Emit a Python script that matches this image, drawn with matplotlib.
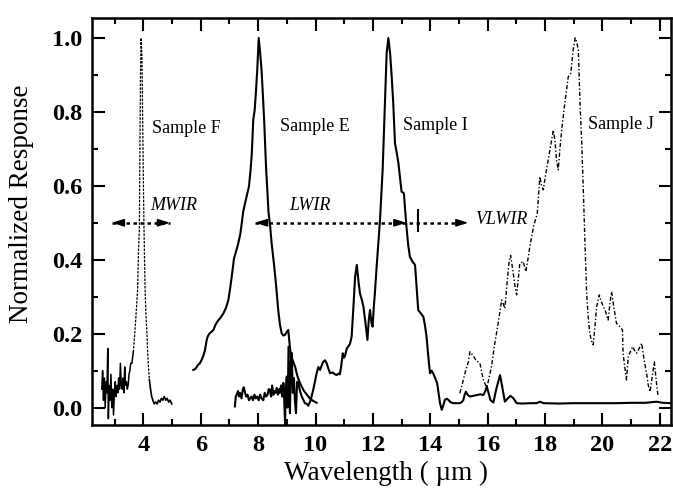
import numpy as np
import matplotlib
matplotlib.use("Agg")
import matplotlib.pyplot as plt
from matplotlib.ticker import MultipleLocator, FormatStrFormatter

plt.rcParams['font.family'] = ['Liberation Serif', 'DejaVu Serif']

# ---- spectral response data (wavelength in um, normalized response) ----
f_x = [2.55, 2.58, 2.61, 2.64, 2.67, 2.70, 2.73, 2.76, 2.78, 2.81, 2.84, 2.87, 2.90,
       2.93, 2.96, 2.99, 3.02, 3.05, 3.08, 3.11, 3.14, 3.17, 3.20, 3.23, 3.26, 3.29,
       3.32, 3.35, 3.38, 3.41, 3.44, 3.47, 3.50, 3.53, 3.56, 3.60, 3.65, 3.71, 3.76,
       3.80, 3.83, 3.86, 3.88, 3.90, 3.92, 3.95, 3.98, 4.01, 4.03, 4.06, 4.09, 4.12,
       4.15, 4.17, 4.21, 4.25, 4.29, 4.33, 4.38, 4.43, 4.48, 4.53, 4.58, 4.63, 4.68,
       4.73, 4.78, 4.83, 4.88, 4.93, 4.99]
f_y = [0.05, 0.10, 0.02, 0.08, 0.00, 0.07, 0.04, 0.16, -0.03, 0.06, 0.02, 0.09, 0.00,
       0.05, -0.02, 0.04, 0.07, 0.03, 0.06, 0.04, 0.08, 0.05, 0.12, 0.06, 0.05, 0.08,
       0.04, 0.11, 0.06, 0.07, 0.05, 0.06, 0.09, 0.10, 0.12, 0.12, 0.15, 0.21, 0.27,
       0.32, 0.42, 0.48, 0.70, 0.90, 1.00, 0.95, 0.75, 0.55, 0.45, 0.32, 0.25, 0.21,
       0.15, 0.12, 0.075, 0.05, 0.03, 0.02, 0.01, 0.015, 0.01, 0.02, 0.015, 0.025, 0.02,
       0.03, 0.02, 0.025, 0.015, 0.02, 0.01]

e_x = [5.74, 5.82, 5.90, 5.97, 6.03, 6.09, 6.15, 6.20, 6.24, 6.30, 6.37, 6.44, 6.52,
       6.60, 6.68, 6.79, 6.88, 6.96, 7.02, 7.08, 7.16, 7.24, 7.31, 7.38, 7.43, 7.48,
       7.58, 7.68, 7.74, 7.78, 7.83, 7.88, 7.92, 7.97, 8.02, 8.07, 8.12, 8.17, 8.21,
       8.28, 8.32, 8.36, 8.42, 8.47, 8.55, 8.62, 8.66, 8.70, 8.76, 8.82, 8.88, 8.94,
       9.00, 9.05, 9.10, 9.15, 9.20, 9.29, 9.37, 9.45, 9.53, 9.60, 9.70, 9.80, 9.92, 10.04]
e_y = [0.102, 0.105, 0.115, 0.12, 0.129, 0.14, 0.156, 0.18, 0.192, 0.2, 0.205, 0.21, 0.225,
       0.235, 0.242, 0.255, 0.27, 0.29, 0.32, 0.354, 0.404, 0.425, 0.445, 0.47, 0.499, 0.53,
       0.565, 0.598, 0.645, 0.688, 0.778, 0.805, 0.85, 0.913, 1.0, 0.96, 0.913, 0.84, 0.778,
       0.643, 0.59, 0.53, 0.49, 0.445, 0.39, 0.336, 0.3, 0.264, 0.225, 0.201, 0.195, 0.197,
       0.205, 0.21, 0.17, 0.135, 0.13, 0.11, 0.085, 0.068, 0.055, 0.045, 0.035, 0.025, 0.018, 0.013]

i_x = [7.19, 7.22, 7.25, 7.30, 7.34, 7.37, 7.42, 7.47, 7.50, 7.54, 7.58, 7.63, 7.68, 7.72,
       7.77, 7.82, 7.87, 7.92, 7.97, 8.02, 8.07, 8.12, 8.18, 8.23, 8.28, 8.33, 8.37, 8.41,
       8.45, 8.49, 8.53, 8.57, 8.61, 8.65, 8.69, 8.73, 8.76, 8.80, 8.84, 8.88, 8.91, 8.94,
       8.96, 9.00, 9.03, 9.06, 9.09, 9.11, 9.14, 9.17, 9.21, 9.25, 9.28, 9.32, 9.36, 9.40,
       9.46, 9.52, 9.58, 9.63, 9.70, 9.75, 9.83, 9.92, 9.98, 10.04, 10.10, 10.16, 10.22,
       10.27, 10.33, 10.39, 10.45, 10.51, 10.60, 10.68, 10.74, 10.80, 10.85, 10.90, 10.95,
       10.99, 11.03, 11.09, 11.14, 11.20, 11.26, 11.32, 11.38, 11.44, 11.50, 11.55, 11.62,
       11.67, 11.74, 11.81, 11.86, 11.90, 11.95, 11.99, 12.03, 12.07, 12.13, 12.19, 12.25,
       12.34, 12.42, 12.48, 12.54, 12.60, 12.66, 12.71, 12.77, 12.83, 12.89, 12.95, 13.00,
       13.08, 13.12, 13.17, 13.23, 13.29, 13.38, 13.47, 13.52, 13.58, 13.67, 13.76, 13.82,
       13.87, 13.93, 13.99, 14.05, 14.10, 14.17, 14.24, 14.29, 14.34, 14.40, 14.45, 14.51,
       14.57, 14.63, 14.70, 14.80, 14.90, 15.03, 15.10, 15.15, 15.20, 15.24, 15.30, 15.38,
       15.50, 15.62, 15.75, 15.85, 15.92, 15.97, 16.03, 16.10, 16.20, 16.30, 16.43, 16.50,
       16.60, 16.70, 16.80, 16.90, 17.01, 17.20, 17.50, 17.70, 17.82, 17.95, 18.50, 19.00,
       19.50, 20.00, 20.50, 21.00, 21.50, 21.89, 22.10, 22.39]
i_y = [0.003, 0.03, 0.034, 0.045, 0.03, 0.04, 0.025, 0.05, 0.055, 0.043, 0.03, 0.035, 0.02,
       0.025, 0.03, 0.02, 0.035, 0.025, 0.03, 0.02, 0.035, 0.025, 0.02, 0.04, 0.03, 0.035,
       0.05, 0.048, 0.03, 0.06, 0.034, 0.045, 0.04, 0.053, 0.035, 0.05, 0.04, 0.06, 0.03,
       0.067, 0.02, -0.045, 0.05, 0.084, 0.0, 0.165, 0.05, -0.015, 0.12, 0.148, 0.04, 0.08,
       0.02, -0.015, 0.07, 0.066, 0.045, 0.03, 0.02, 0.012, 0.01, 0.005, 0.02, 0.048, 0.07,
       0.093, 0.11, 0.102, 0.115, 0.124, 0.128, 0.12, 0.105, 0.093, 0.095, 0.09, 0.088,
       0.092, 0.09, 0.115, 0.147, 0.135, 0.14, 0.16, 0.165, 0.172, 0.192, 0.27, 0.354,
       0.386, 0.34, 0.309, 0.29, 0.273, 0.23, 0.183, 0.24, 0.264, 0.23, 0.219, 0.27, 0.31,
       0.38, 0.445, 0.51, 0.643, 0.823, 0.959, 1.0, 0.959, 0.89, 0.823, 0.715, 0.69, 0.661,
       0.62, 0.584, 0.58, 0.54, 0.49, 0.44, 0.408, 0.395, 0.386, 0.33, 0.264, 0.255, 0.246,
       0.22, 0.192, 0.14, 0.093, 0.1, 0.093, 0.08, 0.066, 0.04, 0.012, -0.006, 0.005, 0.021,
       0.024, 0.021, 0.015, 0.012, 0.012, 0.012, 0.015, 0.02, 0.035, 0.043, 0.035, 0.03,
       0.032, 0.034, 0.036, 0.034, 0.045, 0.057, 0.04, 0.02, 0.014, 0.05, 0.088, 0.06,
       0.016, 0.025, 0.032, 0.025, 0.012, 0.011, 0.012, 0.012, 0.016, 0.012, 0.011, 0.012,
       0.012, 0.012, 0.012, 0.013, 0.013, 0.016, 0.013, 0.012]

j_x = [15.03, 15.12, 15.21, 15.27, 15.33, 15.38, 15.50, 15.60, 15.73, 15.85, 15.90, 15.97,
       16.05, 16.14, 16.25, 16.35, 16.43, 16.49, 16.55, 16.60, 16.68, 16.74, 16.80, 16.88,
       16.95, 17.01, 17.07, 17.12, 17.24, 17.33, 17.40, 17.47, 17.60, 17.73, 17.82, 17.88,
       17.94, 18.02, 18.11, 18.20, 18.29, 18.35, 18.40, 18.46, 18.52, 18.58, 18.70, 18.81,
       18.90, 18.98, 19.05, 19.10, 19.16, 19.22, 19.28, 19.33, 19.39, 19.45, 19.50, 19.56,
       19.62, 19.68, 19.74, 19.80, 19.89, 19.95, 20.02, 20.09, 20.20, 20.26, 20.32, 20.40,
       20.49, 20.60, 20.70, 20.72, 20.78, 20.84, 20.90, 21.05, 21.12, 21.19, 21.28, 21.37,
       21.45, 21.54, 21.60, 21.66, 21.73, 21.81, 21.88, 21.94]
j_y = [0.039, 0.065, 0.093, 0.11, 0.124, 0.151, 0.14, 0.127, 0.12, 0.075, 0.066, 0.055,
       0.08, 0.115, 0.174, 0.22, 0.26, 0.291, 0.28, 0.268, 0.34, 0.39, 0.412, 0.37,
       0.33, 0.305, 0.35, 0.39, 0.395, 0.368, 0.4, 0.435, 0.49, 0.526, 0.625, 0.6,
       0.589, 0.63, 0.67, 0.71, 0.751, 0.72, 0.67, 0.643, 0.7, 0.751, 0.83, 0.895,
       0.905, 0.968, 1.0, 0.99, 0.968, 0.823, 0.715, 0.598, 0.45, 0.31, 0.25, 0.201,
       0.18, 0.17, 0.22, 0.273, 0.305, 0.29, 0.275, 0.264, 0.237, 0.28, 0.314, 0.27,
       0.228, 0.22, 0.21, 0.147, 0.11, 0.075, 0.138, 0.165, 0.155, 0.147, 0.16, 0.174,
       0.13, 0.093, 0.06, 0.043, 0.08, 0.124, 0.07, 0.03]

# sample labels and spectral band markers
sample_names = ["Sample F", "Sample E", "Sample I", "Sample J"]
sample_label_x = [4.29, 8.76, 13.06, 19.50]
sample_label_y = [0.756, 0.76, 0.762, 0.767]
band_names = ["MWIR", "LWIR", "VLWIR"]
band_label_x = [4.25, 9.10, 15.56]
band_label_y = [0.548, 0.548, 0.51]
mwir_range = [2.90, 4.93]
lwir_range = [7.89, 13.17]
vlwir_range = [13.58, 15.33]
band_level = 0.5

x_ticks = [4, 6, 8, 10, 12, 14, 16, 18, 20, 22]
y_ticks = [0.0, 0.2, 0.4, 0.6, 0.8, 1.0]

fig = plt.figure(figsize=(6.73, 4.94), dpi=100)
ax = fig.add_axes([0.1367, 0.1397, 0.8603, 0.8239])

fx = np.array(f_x)
fy = np.array(f_y)
# Sample F: noisy baseline solid, narrow peak dotted
base_left = fx <= 3.66
base_right = fx >= 4.20
peak = (fx >= 3.65) & (fx <= 4.21)
ax.plot(fx[base_left], fy[base_left], color='black', lw=1.1)
ax.plot(fx[base_right], fy[base_right], color='black', lw=1.2)
ax.plot(fx[peak], fy[peak], color='black', lw=0.9, ls=(0, (2, 1)))

ax.plot(e_x, e_y, color='black', lw=1.5)
ax.plot(i_x, i_y, color='black', lw=1.5)
ax.plot(j_x, j_y, color='black', lw=1.0, ls=(0, (3, 1.5, 1, 1.5)))

# band arrows
dot = (0, (1.4, 1.4))
arrow_kw = dict(arrowstyle='-|>,head_length=0.7,head_width=0.22', color='black', lw=1.2,
                shrinkA=0, shrinkB=0)

def head(x_tip, direction):
    ax.annotate('', xy=(x_tip, band_level), xytext=(x_tip - 0.3 * direction, band_level),
                arrowprops=arrow_kw)

ax.plot(mwir_range, [band_level] * 2, color='black', lw=1.8, ls=dot)
head(mwir_range[0], -1)
head(mwir_range[1], 1)

ax.plot([lwir_range[0], vlwir_range[1] - 0.2], [band_level] * 2, color='black', lw=1.8, ls=dot)
head(lwir_range[0], -1)
head(lwir_range[1], 1)
ax.plot([vlwir_range[0]] * 2, [band_level - 0.022, band_level + 0.035], color='black', lw=1.5)
head(vlwir_range[1], 1)

for name, x, y in zip(sample_names, sample_label_x, sample_label_y):
    ax.text(x, y, name, fontsize=13, ha='left', va='center')
for name, x, y in zip(band_names, band_label_x, band_label_y):
    ax.text(x, y, name, fontsize=13, style='italic', ha='left', va='center')

ax.set_xlim(2.21, 22.39)
ax.set_ylim(-0.047, 1.054)
ax.set_xticks(x_ticks)
ax.set_yticks(y_ticks)
ax.xaxis.set_minor_locator(MultipleLocator(1))
ax.yaxis.set_minor_locator(MultipleLocator(0.1))
ax.yaxis.set_major_formatter(FormatStrFormatter('%.1f'))
ax.tick_params(which='both', direction='in', top=True, right=True, width=1.5)
ax.tick_params(which='major', length=9, pad=7)
ax.tick_params(which='minor', length=4.5)
for lab in ax.get_xticklabels() + ax.get_yticklabels():
    lab.set_fontsize(17.5)
    lab.set_fontweight('bold')
for s in ax.spines.values():
    s.set_linewidth(1.8)

fig.text(22 / 673, 1 - 204 / 494, 'Normalized Response', rotation=90,
         ha='center', va='center', fontsize=19.5)
fig.text(386 / 673, 1 - 473 / 494, 'Wavelength ( µm )', ha='center', va='center', fontsize=19.5)

fig.savefig('out.png', dpi=100)
